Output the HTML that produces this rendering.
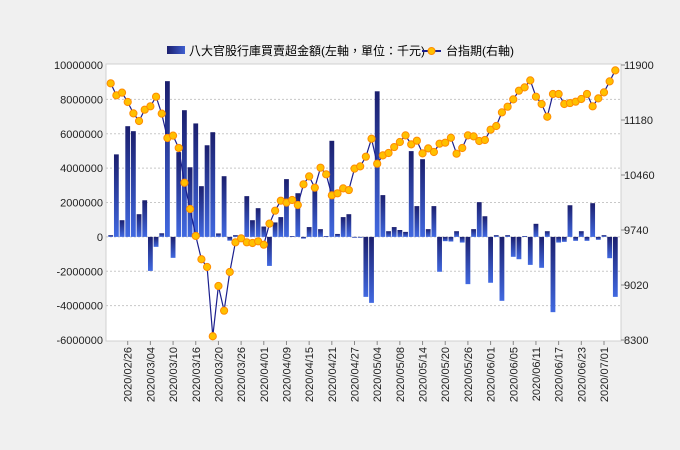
<!DOCTYPE html>
<html><head><meta charset="utf-8"><style>
body{margin:0;background:#f0f0f0;}
svg{display:block;font-family:"Liberation Sans","Noto Sans CJK TC",sans-serif;}
</style></head><body>
<svg id="c" width="680" height="450">
<defs>
<linearGradient id="gp" x1="0" y1="0" x2="0" y2="1"><stop offset="0" stop-color="#1b1f6e"/><stop offset="1" stop-color="#4169e1"/></linearGradient>
<linearGradient id="gl" x1="0" y1="0" x2="1" y2="0"><stop offset="0" stop-color="#1b1f6e"/><stop offset="1" stop-color="#3f5fd0"/></linearGradient>
</defs>
<rect x="0" y="0" width="680" height="450" fill="#f0f0f0"/>
<rect x="106" y="64" width="515" height="277" fill="#fff" stroke="#d0d0d0"/>
<g>
<rect x="167" y="46" width="18" height="8" fill="url(#gl)"/>
<text x="189" y="55" font-size="12" fill="#000">八大官股行庫買賣超金額(左軸，單位：千元)</text>
<line x1="422" y1="51" x2="441" y2="51" stroke="#1b1f8e" stroke-width="2"/>
<circle cx="431.5" cy="51" r="3.5" fill="#ffc000" stroke="#ff8c00"/>
<text x="446" y="55" font-size="12" fill="#000">台指期(右軸)</text>
</g>
<g id="g"></g>
</svg>
<script>
const leftTicks=[10000000,8000000,6000000,4000000,2000000,0,-2000000,-4000000,-6000000];
const rightTicks=[11900,11180,10460,9740,9020,8300];
const dateLabels=["2020/02/26","2020/03/04","2020/03/10","2020/03/16","2020/03/20","2020/03/26","2020/04/01","2020/04/09","2020/04/15","2020/04/21","2020/04/27","2020/05/04","2020/05/08","2020/05/14","2020/05/20","2020/05/26","2020/06/01","2020/06/05","2020/06/11","2020/06/17","2020/06/23","2020/07/01"];
const barValues=[0.1,4.8,0.97,6.44,6.15,1.32,2.13,-1.98,-0.58,0.21,9.06,-1.22,4.93,7.37,4.05,6.6,2.95,5.33,6.09,0.2,3.53,-0.22,0.1,0.02,2.37,0.97,1.67,0.6,-1.69,0.84,1.15,3.36,0.05,2.54,-0.1,0.57,2.97,0.45,0.05,5.59,0.17,1.15,1.32,-0.05,-0.05,-3.49,-3.84,8.47,2.43,0.33,0.57,0.4,0.29,4.99,1.79,4.52,0.45,1.79,-2.03,-0.25,-0.27,0.33,-0.33,-2.75,0.45,2.02,1.2,-2.67,0.1,-3.72,0.1,-1.16,-1.3,0.05,-1.63,0.76,-1.8,0.33,-4.38,-0.33,-0.29,1.84,-0.23,0.33,-0.23,1.96,-0.17,0.1,-1.24,-3.49].map(v=>v*1000000);
const lineValues=[11660,11503,11538,11416,11267,11167,11315,11359,11485,11263,10944,10975,10814,10359,10015,9662,9357,9256,8349,9007,8684,9190,9579,9631,9579,9570,9592,9548,9823,9993,10124,10098,10133,10067,10338,10442,10294,10556,10469,10194,10220,10285,10263,10543,10573,10700,10935,10608,10717,10748,10826,10892,10979,10861,10909,10743,10809,10761,10870,10883,10948,10739,10813,10979,10966,10905,10918,11053,11101,11280,11354,11450,11564,11607,11699,11485,11389,11223,11520,11520,11389,11402,11420,11455,11520,11359,11463,11542,11686,11830];
const labelIndex=dateLabels.map((d,j)=>3+4*j);

const T=65,B=340,X0=110.7,DX=5.67;
const yL=v=>T+(10000000-v)/16000000*(B-T);
const yR=v=>T+(11900-v)/3600*(B-T);
const xB=i=>X0+DX*i;
const NS="http://www.w3.org/2000/svg";
const g=document.getElementById('g');
function mk(tag,attrs){const e=document.createElementNS(NS,tag);for(const k in attrs)e.setAttribute(k,attrs[k]);g.appendChild(e);return e;}

leftTicks.forEach(t=>{
  const y=yL(t);
  if(t!==10000000&&t!==-6000000){const l=mk('line',{x1:106,x2:621,y1:y,y2:y,stroke:'#c8c8c8','stroke-dasharray':'2,2'});
  
  }
  const tx=mk('text',{x:103,y:y+4,'font-size':11,'text-anchor':'end',fill:'#222'});
  tx.textContent=String(t);
  
  
});
rightTicks.forEach(t=>{
  const y=yR(t);
  const tk=mk('line',{x1:621,x2:625,y1:y,y2:y,stroke:'#888'});
  
  
  const tx=mk('text',{x:624,y:y+4,'font-size':11,fill:'#222'});
  tx.textContent=String(t);
  
  
});
const y0=yL(0);
barValues.forEach((v,i)=>{
  const y=yL(v);
  const r=mk('rect',{x:xB(i)-2.4,width:4.8,y:Math.min(y,y0),height:Math.max(Math.abs(y-y0),0.6),fill:'url(#gp)'});
  
  
});
const pts=lineValues.map((v,i)=>xB(i).toFixed(1)+','+yR(v).toFixed(1)).join(' ');
const pl=mk('polyline',{points:pts,fill:'none',stroke:'#1b1f8e','stroke-width':1.2});


lineValues.forEach((v,i)=>{
  const c=mk('circle',{cx:xB(i),cy:yR(v),r:3.6,fill:'#ffc000',stroke:'#ff8c00','stroke-width':1});
  
  
});
dateLabels.forEach((d,j)=>{
  const x=xB(labelIndex[j]);
  const tk=mk('line',{x1:x,x2:x,y1:341,y2:345,stroke:'#888'});
  
  
  const tx=mk('text',{x:0,y:0,'font-size':11,'text-anchor':'end',fill:'#222',transform:`translate(${x+4},347) rotate(-90)`});
  tx.textContent=d;
  
  
});
</script>
</body></html>
